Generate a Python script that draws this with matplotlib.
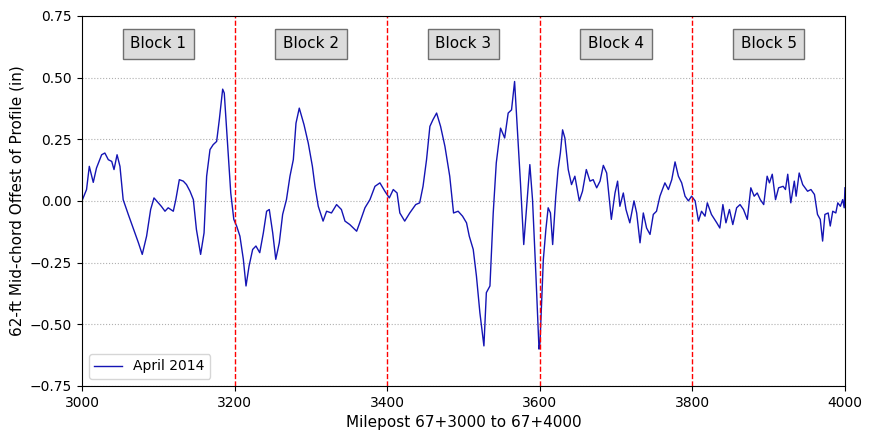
import matplotlib
matplotlib.use('Agg')
from matplotlib import pyplot as plt

# milepost (ft past 67+3000 ... 67+4000) and mid-chord offset (in)
milepost = [3000, 3006, 3009.6, 3014.8, 3019, 3025.8, 3030, 3034.5, 3039, 3042, 3046, 3049.8,
            3054, 3060.7, 3067, 3074, 3079, 3084.7, 3090, 3094.4, 3100, 3104, 3108.8, 3113,
            3119.7, 3123, 3127.6, 3132.8, 3137, 3141.6, 3146, 3150, 3155.5, 3160, 3163.4,
            3167.8, 3172, 3176.5, 3180, 3184.4, 3186.5, 3190.5, 3195, 3199, 3202.7, 3207,
            3211.5, 3215, 3219, 3223.7, 3228, 3233, 3237.7, 3242, 3245.5, 3250, 3254, 3258.6,
            3263, 3268, 3272.6, 3277, 3280.5, 3284.8, 3291, 3296.6, 3302, 3305.4, 3309.7,
            3316, 3320.6, 3327, 3333.7, 3340, 3344.7, 3351, 3360, 3364, 3370.9, 3377.4, 3384,
            3390.5, 3397, 3402.8, 3408, 3413, 3416.6, 3423, 3429.6, 3437.4, 3442.6, 3447,
            3451.6, 3456, 3460, 3464.8, 3470, 3475.7, 3482, 3487, 3493, 3498.8, 3504, 3507.6,
            3512.8, 3517, 3521.5, 3526.8, 3530, 3534.7, 3539, 3543, 3548.6, 3554, 3558.6,
            3563, 3567, 3571.6, 3574.7, 3579, 3583.5, 3587, 3590.5, 3595, 3599, 3600.3,
            3604.7, 3608, 3611, 3614, 3616.9, 3621, 3624, 3627, 3629.9, 3632.9, 3637.3,
            3641.6, 3646, 3651.8, 3656, 3661, 3665.8, 3670, 3674.6, 3679, 3683.3, 3687.7,
            3693.8, 3698.6, 3702, 3705, 3709.5, 3713, 3718, 3723.5, 3727, 3731.4, 3735.7,
            3740, 3744.5, 3748.8, 3753, 3757.5, 3764, 3768.6, 3773, 3777.3, 3781.7, 3786,
            3790.4, 3794.8, 3799, 3803.6, 3808, 3812, 3816.6, 3819.6, 3825, 3832, 3836, 3840,
            3844, 3848.6, 3853, 3858, 3862.5, 3867, 3872, 3876.6, 3881, 3885, 3889, 3893.5,
            3898, 3901, 3904.7, 3909, 3913, 3919, 3922, 3925, 3929, 3933.6, 3936, 3940,
            3944.6, 3951, 3955.4, 3960, 3964, 3967.6, 3970.7, 3973.7, 3978, 3980.7, 3984,
            3988, 3990.6, 3994, 3997, 3999, 4000]
offset = [0.0, 0.046, 0.14, 0.075, 0.133, 0.187, 0.194, 0.167, 0.16, 0.127, 0.187, 0.14,
          0.005, -0.055, -0.11, -0.17, -0.217, -0.143, -0.035, 0.012, -0.008, -0.022, -0.042, -0.028,
          -0.042, 0.005, 0.086, 0.08, 0.066, 0.039, 0.005, -0.116, -0.217, -0.13, 0.1,
          0.208, 0.228, 0.241, 0.329, 0.453, 0.437, 0.248, 0.032, -0.075, -0.102, -0.143,
          -0.237, -0.345, -0.264, -0.197, -0.183, -0.21, -0.13, -0.042, -0.035, -0.13, -0.237, -0.17,
          -0.055, 0.005, 0.1, 0.167, 0.315, 0.376, 0.309, 0.234, 0.14, 0.059, -0.022,
          -0.082, -0.042, -0.049, -0.015, -0.035, -0.082, -0.096, -0.123, -0.089, -0.028, 0.005, 0.059,
          0.073, 0.039, 0.012, 0.046, 0.032, -0.049, -0.082, -0.049, -0.015, -0.008, 0.059,
          0.167, 0.302, 0.329, 0.356, 0.302, 0.221, 0.1, -0.049, -0.042, -0.062, -0.089, -0.143,
          -0.197, -0.305, -0.453, -0.588, -0.372, -0.345, -0.049, 0.154, 0.295, 0.255, 0.356,
          0.369, 0.484, 0.234, 0.073, -0.177, 0.005, 0.147, 0.005, -0.305, -0.601, -0.574,
          -0.237, -0.116, -0.028, -0.049, -0.177, 0.019, 0.127, 0.194, 0.288, 0.255, 0.127,
          0.066, 0.1, 0.0, 0.039, 0.127, 0.08, 0.086, 0.053, 0.08, 0.144, 0.113,
          -0.075, 0.032, 0.08, -0.022, 0.032, -0.035, -0.089, 0.0, -0.049, -0.17, -0.049,
          -0.11, -0.136, -0.055, -0.042, 0.019, 0.073, 0.046, 0.086, 0.158, 0.1, 0.073,
          0.019, 0.0, 0.019, 0.0, -0.082, -0.042, -0.062, -0.008, -0.055, -0.089, -0.11, -0.015,
          -0.089, -0.035, -0.096, -0.028, -0.015, -0.035, -0.075, 0.053, 0.019, 0.032, 0.005, -0.015,
          0.1, 0.073, 0.108, 0.005, 0.053, 0.059, 0.046, 0.108, -0.008, 0.08, 0.019, 0.113,
          0.066, 0.039, 0.046, 0.026, -0.055, -0.075, -0.163, -0.055, -0.049, -0.102, -0.042,
          -0.049, -0.008, -0.022, 0.005, -0.028, 0.053]

block_edges = [3200, 3400, 3600, 3800]
block_centers = [3100, 3300, 3500, 3700, 3900]
block_labels = ['Block 1', 'Block 2', 'Block 3', 'Block 4', 'Block 5']

fig = plt.figure(figsize=(8.72, 4.41), dpi=100)
ax = fig.add_axes([0.094, 0.125, 0.875, 0.839])

ax.plot(milepost, offset, color='#1414b4', lw=1, label='April 2014')
for e in block_edges:
    ax.axvline(e, color='red', ls='--', lw=1)
for c, t in zip(block_centers, block_labels):
    ax.text(c, 0.636, t, ha='center', va='center', fontsize=11,
            bbox=dict(boxstyle='square,pad=0.5', facecolor='#dcdcdc', edgecolor='#707070'))

ax.set_xlim(3000, 4000)
ax.set_ylim(-0.75, 0.75)
ax.set_xticks([3000, 3200, 3400, 3600, 3800, 4000])
ax.set_yticks([-0.75, -0.5, -0.25, 0, 0.25, 0.5, 0.75])
ax.yaxis.grid(True, ls=':', color='#b0b0b0')
ax.set_xlabel('Milepost 67+3000 to 67+4000', fontsize=11)
ax.set_ylabel('62-ft Mid-chord Offest of Profile (in)', fontsize=11)
ax.tick_params(labelsize=10)
ax.legend(loc='lower left', fontsize=10)
plt.savefig('out.png')
